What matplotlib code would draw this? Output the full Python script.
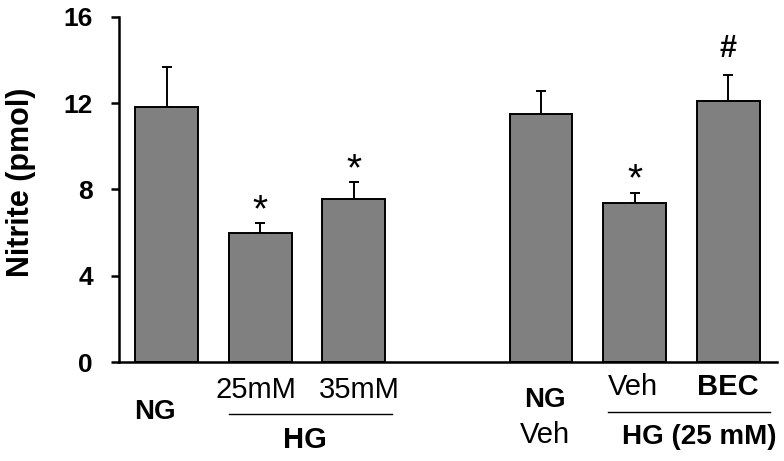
import matplotlib.pyplot as plt
from matplotlib.transforms import blended_transform_factory

groups = ['NG', '25mM', '35mM', 'NG\nVeh', 'Veh', 'BEC']
positions = [0, 1, 2, 4, 5, 6]
nitrite = [11.8, 6.0, 7.56, 11.5, 7.36, 12.1]
sem = [1.88, 0.43, 0.77, 1.08, 0.49, 1.19]
marks = ['', '*', '*', '', '*', '#']

plt.rcParams['font.family'] = ['Liberation Sans', 'DejaVu Sans']

fig = plt.figure(figsize=(7.84, 4.61), dpi=100)
ax = fig.add_axes([0.152, 0.214, 0.839, 0.750])

ax.bar(positions, nitrite, width=0.67, color='#808080', edgecolor='black', linewidth=1.4, zorder=2)
ax.errorbar(positions, nitrite, yerr=[[0] * len(sem), sem], fmt='none', ecolor='black',
            elinewidth=1.4, capsize=3.5, capthick=1.4, zorder=1)

# significance marks above the error bars
for x, y, e, m in zip(positions, nitrite, sem, marks):
    if m == '*':
        ax.annotate(m, (x, y + e), xytext=(0, 9), textcoords='offset points',
                    ha='center', va='center', fontsize=28)
    elif m == '#':
        ax.annotate(m, (x, y + e), xytext=(0, 19), textcoords='offset points',
                    ha='center', va='center', fontsize=22, fontweight='bold')

ax.set_ylim(0, 16)
ax.set_xlim(-0.507, 6.52)
ax.set_yticks([0, 4, 8, 12, 16])
ax.set_xticks([])
ax.tick_params(axis='y', direction='out', length=6, width=1.8, labelsize=19, pad=13)
for lab in ax.get_yticklabels():
    lab.set_fontweight('bold')
ax.set_ylabel('Nitrite (pmol)', fontsize=22, fontweight='bold')
ax.yaxis.set_label_coords(-0.127, 0.522)
ax.spines['top'].set_visible(False)
ax.spines['right'].set_visible(False)
ax.spines['left'].set_linewidth(1.8)
ax.spines['bottom'].set_linewidth(1.8)

tr = blended_transform_factory(ax.transData, fig.transFigure)
fy = lambda px: 1 - px / 461

# group labels below the axis
ax.text(positions[0] - 0.12, fy(412), groups[0], transform=tr, ha='center', va='center',
        fontsize=20, fontweight='bold')
ax.text(positions[1] - 0.05, fy(390), groups[1], transform=tr, ha='center', va='center', fontsize=21)
ax.text(positions[2] + 0.06, fy(390), groups[2], transform=tr, ha='center', va='center', fontsize=21)
ax.plot([0.667, 2.41], [fy(414), fy(414)], transform=tr, color='black', lw=1, clip_on=False)
ax.text(1.48, fy(440), 'HG', transform=tr, ha='center', va='center', fontsize=21, fontweight='bold')

top, bottom = groups[3].split('\n')
ax.text(positions[3] + 0.04, fy(400), top, transform=tr, ha='center', va='center',
        fontsize=20, fontweight='bold')
ax.text(positions[3] + 0.04, fy(435), bottom, transform=tr, ha='center', va='center',
        fontsize=21)
ax.text(positions[4] - 0.02, fy(387), groups[4], transform=tr, ha='center', va='center', fontsize=21)
ax.text(positions[5] - 0.01, fy(387), groups[5], transform=tr, ha='center', va='center',
        fontsize=21, fontweight='bold')
ax.plot([4.72, 6.45], [fy(412), fy(412)], transform=tr, color='black', lw=1, clip_on=False)
ax.text(5.69, fy(437), 'HG (25 mM)', transform=tr, ha='center', va='center', fontsize=20,
        fontweight='bold')

fig.savefig('out.png', dpi=100)
